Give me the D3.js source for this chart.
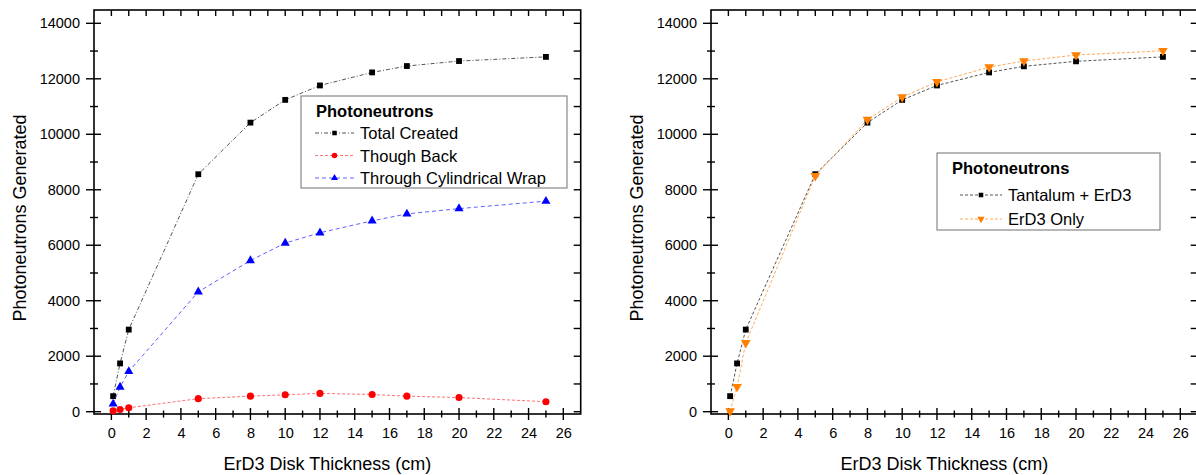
<!doctype html>
<meta charset="utf-8">
<title>photoneutrons</title>
<script src="https://cdn.jsdelivr.net/npm/d3@7"></script>
<style>
  body { margin: 0; background: #fff; }
  text { font-family: "Liberation Sans", Arial, sans-serif; fill: #000; }
</style>
<body>
<svg id="chart" width="1196" height="475"></svg>
<script>

// thickness values (cm)
var thickness = [0.1, 0.5, 1, 5, 8, 10, 12, 15, 17, 20, 25];

// left panel
var totalCreated = [560, 1740, 2960, 8560, 10420, 11240, 11760, 12230, 12460, 12640, 12790];
var thoughBack = [30, 80, 140, 470, 560, 610, 660, 620, 560, 510, 360];
var cylWrap = [280, 890, 1450, 4320, 5450, 6080, 6450, 6880, 7130, 7320, 7590];

// right panel
var tantalumErD3 = [560, 1740, 2960, 8560, 10420, 11240, 11760, 12230, 12450, 12630, 12790];
var erd3Only = [20, 900, 2480, 8500, 10530, 11340, 11890, 12420, 12640, 12860, 13010];

var xTicks = d3.range(0, 27, 2);
var yTicks = d3.range(0, 14001, 2000);

var svg = d3.select("#chart");

function drawPanel(ox, series, leg) {
  var left = ox + 94, right = ox + 580.7, top = 10, bottom = 414;
  var x = d3.scaleLinear().domain([-1, 27]).range([left, right]);
  var y = d3.scaleLinear().domain([-83, 14480]).range([bottom, top]);
  var g = svg.append("g");

  // frame
  g.append("rect").attr("x", left).attr("y", top)
    .attr("width", right - left).attr("height", bottom - top)
    .attr("fill", "none").attr("stroke", "#000").attr("stroke-width", 1.6);

  // y ticks
  d3.range(0, 14001, 1000).forEach(function(v) {
    var major = v % 2000 == 0;
    var py = y(v);
    g.append("line").attr("x1", left - (major ? 8 : 4)).attr("x2", left + (major ? 7 : 4))
      .attr("y1", py).attr("y2", py).attr("stroke", "#000").attr("stroke-width", 1.4);
    g.append("line").attr("x1", right - 7).attr("x2", right)
      .attr("y1", py).attr("y2", py).attr("stroke", "#000").attr("stroke-width", 1.4);
  });
  // x ticks
  d3.range(0, 27, 1).forEach(function(v) {
    var major = v % 2 == 0;
    var px = x(v);
    g.append("line").attr("x1", px).attr("x2", px)
      .attr("y1", bottom - (major ? 6 : 3.5)).attr("y2", bottom + (major ? 6 : 3.5))
      .attr("stroke", "#000").attr("stroke-width", 1.4);
    g.append("line").attr("x1", px).attr("x2", px)
      .attr("y1", top).attr("y2", top + 6).attr("stroke", "#000").attr("stroke-width", 1.4);
  });

  // tick labels via axes (tick lines hidden)
  var ax = g.append("g").attr("transform", "translate(0," + bottom + ")")
    .call(d3.axisBottom(x).tickValues(xTicks).tickSize(0).tickPadding(14));
  var ay = g.append("g").attr("transform", "translate(" + left + ",0)")
    .call(d3.axisLeft(y).tickValues(yTicks).tickFormat(d3.format("d")).tickSize(0).tickPadding(14));
  [ax, ay].forEach(function(a) {
    a.select(".domain").remove();
    a.selectAll("text").attr("font-size", 14.5).attr("font-family", "Liberation Sans, Arial, sans-serif").attr("fill", "#000");
  });

  // axis titles
  g.append("text").attr("x", (left + right) / 2 - 10).attr("y", 470)
    .attr("text-anchor", "middle").attr("font-size", 18).text("ErD3 Disk Thickness (cm)");
  g.append("text").attr("transform", "translate(" + (ox + 26) + ",218) rotate(-90)")
    .attr("text-anchor", "middle").attr("font-size", 18).text("Photoneutrons Generated");

  // series
  var line = d3.line().x(function(d) { return x(d[0]); }).y(function(d) { return y(d[1]); });
  series.forEach(function(s) {
    var pts = thickness.map(function(t, i) { return [t, s.values[i]]; });
    g.append("path").datum(pts).attr("d", line).attr("fill", "none")
      .attr("stroke", s.line).attr("stroke-width", 1).attr("stroke-dasharray", s.dash);
    g.selectAll(null).data(pts).enter().append("path")
      .attr("d", d3.symbol().type(s.symbol).size(s.size))
      .attr("transform", function(d) { return "translate(" + x(d[0]) + "," + y(d[1]) + ")" + (s.flip ? " rotate(180)" : ""); })
      .attr("fill", s.color);
  });

  // legend
  var lg = g.append("g");
  lg.append("rect").attr("x", ox + leg.x).attr("y", leg.y).attr("width", leg.w).attr("height", leg.h)
    .attr("fill", "#fff").attr("stroke", "#888").attr("stroke-width", 1.2);
  lg.append("text").attr("x", ox + leg.x + 15).attr("y", leg.y + leg.titleY)
    .attr("font-size", 16.5).attr("font-weight", "bold").text("Photoneutrons");
  series.forEach(function(s, i) {
    var ry = leg.y + leg.row0 + i * leg.rowH;
    lg.append("line").attr("x1", ox + leg.lx1).attr("x2", ox + leg.lx2).attr("y1", ry).attr("y2", ry)
      .attr("stroke", s.line).attr("stroke-width", 1).attr("stroke-dasharray", s.dash);
    lg.append("path").attr("d", d3.symbol().type(s.symbol).size(s.size * 0.6))
      .attr("transform", "translate(" + (ox + (leg.lx1 + leg.lx2) / 2) + "," + ry + ")" + (s.flip ? " rotate(180)" : ""))
      .attr("fill", s.color);
    lg.append("text").attr("x", ox + leg.lx2 + 6).attr("y", ry + 6)
      .attr("font-size", 16.5).text(s.name);
  });
}

drawPanel(0, [
  { name: "Total Created", values: totalCreated, color: "#000", line: "#555", dash: "4,2,1,2", symbol: d3.symbolSquare, size: 34 },
  { name: "Though Back", values: thoughBack, color: "#ff0000", line: "#ff7070", dash: "3,2", symbol: d3.symbolCircle, size: 40 },
  { name: "Through Cylindrical Wrap", values: cylWrap, color: "#0000ff", line: "#6060ff", dash: "4,3", symbol: d3.symbolTriangle, size: 36 }
], { x: 301, y: 96, w: 266, h: 92, titleY: 21, row0: 37, rowH: 22.5, lx1: 315, lx2: 354 });

drawPanel(617, [
  { name: "Tantalum + ErD3", values: tantalumErD3, color: "#000", line: "#555", dash: "3,2", symbol: d3.symbolSquare, size: 34 },
  { name: "ErD3 Only", values: erd3Only, color: "#ff8000", line: "#ffaa55", dash: "3,2", symbol: d3.symbolTriangle, size: 40, flip: true }
], { x: 320, y: 153, w: 223, h: 77, titleY: 21, row0: 42, rowH: 24, lx1: 343, lx2: 385 });

</script>
</body>
